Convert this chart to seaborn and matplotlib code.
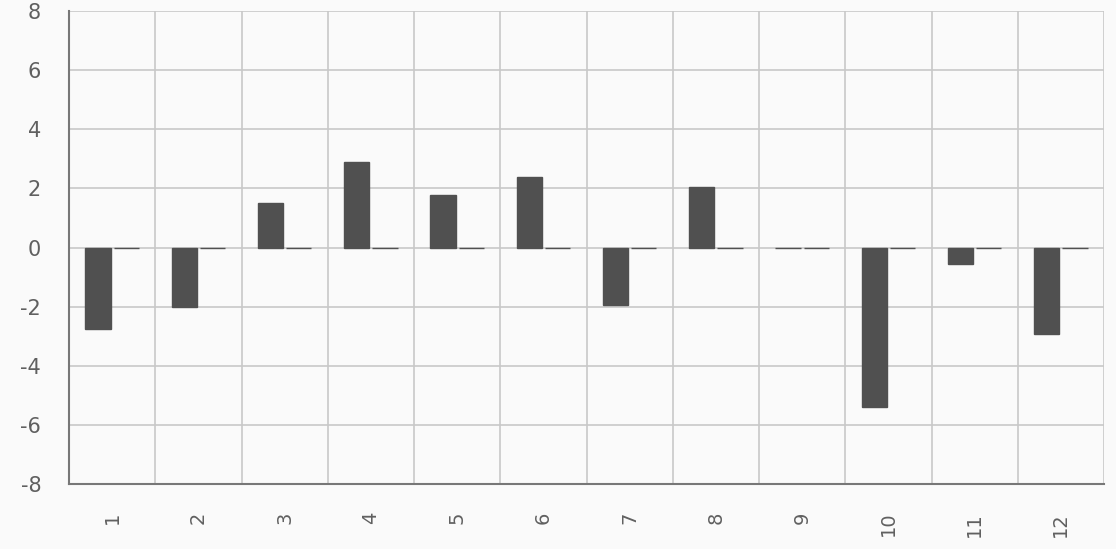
import matplotlib
matplotlib.use("Agg")
import matplotlib.pyplot as plt
import seaborn as sns
import pandas as pd
import numpy as np

categories = ["1", "2", "3", "4", "5", "6", "7", "8", "9", "10", "11", "12"]
series_a = [-2.77, -2.0, 1.49, 2.88, 1.79, 2.37, -1.96, 2.03, 0.0, -5.38, -0.57, -2.94]
series_b = [0.0] * 12
y_ticks = [-8, -6, -4, -2, 0, 2, 4, 6, 8]

df = pd.DataFrame({
    "cat": categories * 2,
    "series": ["A"] * 12 + ["B"] * 12,
    "value": series_a + series_b,
})

sns.set_theme(style="white")
plt.rcParams["font.family"] = ["DejaVu Sans"]

fig = plt.figure(figsize=(11.16, 5.49), dpi=100, facecolor="#fafafa")
ax = fig.add_axes([69/1116, 1 - 484/549, (1104-69)/1116, (484-11)/549])
ax.set_facecolor("#fafafa")

sns.barplot(data=df, x="cat", y="value", hue="series", order=categories,
            palette=["#505050", "#505050"], width=0.65, gap=0.1,
            edgecolor="#505050", linewidth=1, legend=False, ax=ax, zorder=3)

ax.set_ylim(-8, 8)
ax.set_xlim(-0.5, 11.5)
ax.set_yticks(y_ticks)
ax.set_yticklabels([str(t) for t in y_ticks], fontsize=15, color="#606060")
ax.set_xticks(range(12))
ax.set_xticklabels(categories, rotation=90, fontsize=14, color="#606060")
ax.set_xticks(np.arange(-0.5, 12, 1), minor=True)
ax.tick_params(axis="both", which="both", length=0)
ax.tick_params(axis="x", pad=20)
ax.tick_params(axis="y", pad=20)

ax.grid(False)
ax.grid(axis="y", which="major", color="#c8c8c8", linewidth=1.2, zorder=0)
ax.grid(axis="x", which="minor", color="#c8c8c8", linewidth=1.2, zorder=0)
ax.set_axisbelow(True)

for s in ["top", "right"]:
    ax.spines[s].set_visible(False)
for s in ["left", "bottom"]:
    ax.spines[s].set_color("#777777")
    ax.spines[s].set_linewidth(1.5)

ax.set_xlabel("")
ax.set_ylabel("")

fig.savefig("out.png", dpi=100, facecolor="#fafafa")
